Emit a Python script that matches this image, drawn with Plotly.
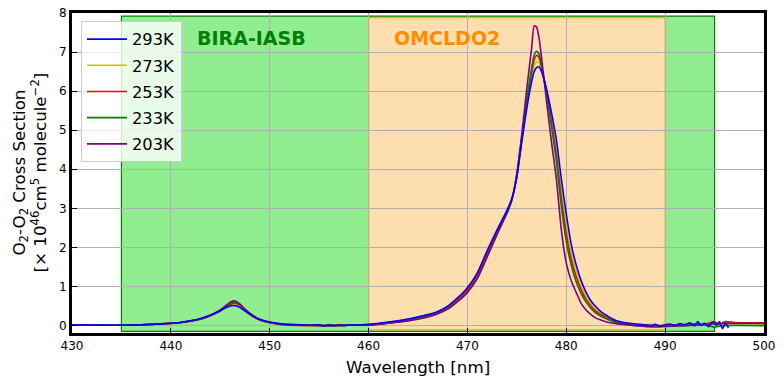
import plotly.graph_objects as go

# ---------------- data ----------------
series_names = ["293K", "273K", "253K", "233K", "203K"]
series_colors = ["#0000ff", "#c8c800", "#ff0000", "#008000", "#800080"]

wl_293 = [430, 432, 434, 436, 438, 440, 441, 442, 443, 444, 444.5, 445, 445.5, 446, 446.5, 447, 447.5,
          448, 448.5, 449, 450, 451, 452, 454, 455, 455.5, 456, 456.5, 457, 457.5, 458, 459, 460, 462, 464,
          466, 467, 468, 469, 470, 471, 472, 473, 474, 474.5, 475, 475.5, 476, 476.5, 476.75, 477, 477.25,
          477.5, 478, 478.5, 479, 479.5, 480, 480.5, 481, 481.5, 482, 482.5, 483, 483.5, 484, 485, 486,
          487, 488, 488.5, 489, 489.5, 490, 490.5, 491, 491.5, 492, 492.5, 493, 493.3, 493.6, 494, 494.4,
          494.8, 495.2, 495.5, 495.8, 496.1, 496.4]
xs_293 = [0.02, 0.015, 0.01, 0.015, 0.03, 0.06, 0.08, 0.12, 0.18, 0.27, 0.32, 0.38, 0.45, 0.50, 0.51, 0.46, 0.37,
          0.29, 0.22, 0.16, 0.09, 0.05, 0.03, 0.01, 0.02, -0.01, 0.02, 0.0, 0.015, -0.005, 0.02, 0.01, 0.03, 0.09, 0.17,
          0.28, 0.36, 0.50, 0.71, 0.97, 1.35, 1.92, 2.45, 2.95, 3.25, 3.80, 4.70, 5.55, 6.25, 6.50, 6.60, 6.62,
          6.50, 6.05, 5.45, 4.75, 3.75, 2.85, 2.08, 1.55, 1.15, 0.85, 0.63, 0.48, 0.36, 0.27, 0.13, 0.07,
          0.04, 0.02, 0.0, 0.03, -0.01, 0.02, 0.04, 0.0, 0.05, 0.02, 0.07, -0.01, 0.10, 0.0, 0.06, -0.03,
          0.09, 0.01, 0.10, -0.08, 0.07, -0.06]

wl_main = [430, 432, 434, 436, 438, 440, 441, 442, 443, 444, 444.5, 445, 445.5, 446, 446.5, 447, 447.5,
           448, 448.5, 449, 450, 451, 452, 454, 456, 458, 460, 462, 464, 466, 467, 468, 469, 470, 471, 472,
           473, 474, 474.5, 475, 475.5, 476, 476.5, 476.75, 477, 477.25, 477.5, 478, 478.5, 479, 479.5,
           480, 480.5, 481, 481.5, 482, 482.5, 483, 483.5, 484, 485, 486, 487, 488]

xs_273_main = [0.015, 0.01, 0.01, 0.01, 0.03, 0.06, 0.08, 0.12, 0.17, 0.26, 0.32, 0.38, 0.46, 0.53, 0.56, 0.50, 0.40,
               0.30, 0.22, 0.16, 0.08, 0.04, 0.02, 0.01, 0.0, 0.01, 0.02, 0.08, 0.16, 0.27, 0.35, 0.48, 0.69, 0.94, 1.32, 1.88,
               2.42, 2.93, 3.25, 3.82, 4.74, 5.65, 6.40, 6.66, 6.75, 6.72, 6.55, 5.98, 5.30, 4.50, 3.45,
               2.55, 1.85, 1.38, 1.02, 0.75, 0.56, 0.42, 0.32, 0.24, 0.12, 0.06, 0.03, 0.01]
xs_253_main = [0.015, 0.01, 0.01, 0.01, 0.03, 0.05, 0.08, 0.11, 0.16, 0.25, 0.31, 0.37, 0.46, 0.54, 0.58, 0.51, 0.40,
               0.29, 0.20, 0.14, 0.07, 0.03, 0.01, 0.0, 0.0, 0.01, 0.02, 0.07, 0.15, 0.26, 0.34, 0.47, 0.67, 0.92, 1.29, 1.85,
               2.40, 2.92, 3.25, 3.84, 4.78, 5.72, 6.50, 6.80, 6.92, 6.85, 6.62, 6.00, 5.20, 4.35, 3.25,
               2.35, 1.70, 1.25, 0.92, 0.67, 0.50, 0.37, 0.28, 0.21, 0.10, 0.05, 0.02, 0.0]
xs_233_main = [0.015, 0.01, 0.01, 0.01, 0.03, 0.06, 0.08, 0.12, 0.17, 0.26, 0.32, 0.39, 0.48, 0.57, 0.60, 0.53, 0.41,
               0.31, 0.22, 0.15, 0.08, 0.04, 0.02, 0.01, 0.0, 0.01, 0.01, 0.06, 0.13, 0.23, 0.31, 0.43, 0.62, 0.86, 1.22, 1.78,
               2.35, 2.88, 3.22, 3.85, 4.80, 5.78, 6.60, 6.92, 7.02, 6.95, 6.65, 5.95, 5.10, 4.20, 3.05,
               2.15, 1.55, 1.12, 0.82, 0.60, 0.44, 0.32, 0.24, 0.18, 0.08, 0.03, 0.0, -0.02]
xs_203_main = [0.015, 0.01, 0.01, 0.01, 0.03, 0.06, 0.08, 0.12, 0.17, 0.26, 0.33, 0.40, 0.50, 0.60, 0.63, 0.55, 0.42,
               0.31, 0.22, 0.15, 0.08, 0.04, 0.02, 0.01, 0.0, 0.01, 0.01, 0.06, 0.12, 0.22, 0.30, 0.42, 0.61, 0.85, 1.20, 1.76,
               2.33, 2.88, 3.22, 3.90, 4.90, 6.05, 7.12, 7.67, 7.64, 7.35, 6.85, 5.75, 4.70, 3.75, 2.45,
               1.60, 1.15, 0.85, 0.57, 0.40, 0.28, 0.19, 0.14, 0.10, 0.05, 0.02, 0.0, -0.02]

wl_273_tail = [488.5, 489, 490, 491, 492, 493, 494, 495, 495.5, 496, 500]
xs_273_tail = [0.04, 0.0, 0.03, 0.01, 0.05, 0.02, 0.06, 0.0, 0.05, 0.02, 0.02]
wl_253_tail = [489, 490, 491, 492, 493, 494, 495, 495.5, 496, 497, 500]
xs_253_tail = [-0.01, 0.0, 0.02, 0.01, 0.05, 0.03, 0.10, 0.02, 0.10, 0.08, 0.07]
wl_233_tail = [489, 490, 492, 494, 495, 496, 500]
xs_233_tail = [-0.03, -0.02, 0.0, 0.02, -0.04, 0.0, 0.0]
wl_203_tail = [489, 490, 492, 494, 495, 496, 500]
xs_203_tail = [-0.03, -0.02, 0.0, 0.03, 0.05, 0.06, 0.06]

x_ticks = [430, 440, 450, 460, 470, 480, 490, 500]
y_ticks = [0, 1, 2, 3, 4, 5, 6, 7, 8]

bira_range = [435, 495]
bira_y = [-0.15, 7.92]
omi_range = [460, 490]
omi_y = [-0.11, 7.88]
region_labels = ["BIRA-IASB", "OMCLDO2"]

# ---------------- build ----------------
series_x = [wl_293, wl_main + wl_273_tail, wl_main + wl_253_tail, wl_main + wl_233_tail, wl_main + wl_203_tail]
series_y = [xs_293, xs_273_main + xs_273_tail, xs_253_main + xs_253_tail,
            xs_233_main + xs_233_tail, xs_203_main + xs_203_tail]

FONT = "DejaVu Sans"
fig = go.Figure()

# draw 293K last (on top) but keep legend order
draw_order = [1, 2, 3, 4, 0]
for i in draw_order:
    fig.add_trace(go.Scatter(
        x=series_x[i], y=series_y[i], mode="lines", name=series_names[i],
        line=dict(color=series_colors[i], width=1.6, shape="spline", smoothing=0.5),
        legendrank=i + 1, legendgroup=series_names[i],
    ))

fig.add_shape(type="rect", xref="x", yref="y", x0=bira_range[0], x1=bira_range[1], y0=bira_y[0], y1=bira_y[1],
              fillcolor="#90ee90", line=dict(color="#008000", width=1.2), layer="below")
fig.add_shape(type="rect", xref="x", yref="y", x0=omi_range[0], x1=omi_range[1], y0=omi_y[0], y1=omi_y[1],
              fillcolor="#fddeae", line=dict(color="rgba(255,165,0,0.7)", width=1.5), layer="below")

fig.add_annotation(x=448.2, y=7.36, text="<b>" + region_labels[0] + "</b>", showarrow=False,
                   font=dict(family=FONT, size=19, color="#008000"))
fig.add_annotation(x=467.9, y=7.36, text="<b>" + region_labels[1] + "</b>", showarrow=False,
                   font=dict(family=FONT, size=19, color="#ff8c00"))

# axis titles as annotations for exact placement
fig.add_annotation(xref="paper", yref="paper", x=0.5, y=-0.106, yanchor="middle", showarrow=False,
                   text="Wavelength [nm]", font=dict(family=FONT, size=16.7))
fig.add_annotation(xref="paper", yref="paper", x=-0.0614, y=0.5, xanchor="center", yanchor="middle",
                   showarrow=False, textangle=-90,
                   text="O<sub>2</sub>-O<sub>2</sub> Cross Section<br>[× 10<sup>46</sup>cm<sup>5</sup> molecule<sup>−2</sup>]",
                   font=dict(family=FONT, size=16.7))

fig.update_layout(
    width=784, height=385,
    margin=dict(l=72, r=20, t=13, b=52, autoexpand=False),
    paper_bgcolor="white", plot_bgcolor="white",
    font=dict(family=FONT, size=12, color="black"),
    legend=dict(x=0.013, y=0.975, xanchor="left", yanchor="top",
                bgcolor="rgba(255,255,255,0.8)", bordercolor="#cccccc", borderwidth=1,
                font=dict(family=FONT, size=16.3), itemwidth=40, tracegroupgap=2),
    showlegend=True,
)
fig.update_xaxes(range=[430, 500], tickvals=x_ticks, ticktext=[str(v) for v in x_ticks],
                 automargin=False, ticklabeloverflow="allow",
                 showgrid=True, gridcolor="#b0b0b0", gridwidth=1, zeroline=False,
                 showline=True, linecolor="black", linewidth=3, mirror=True,
                 ticks="inside", ticklen=5, tickcolor="black",
                 tickfont=dict(family=FONT, size=12))
fig.update_yaxes(range=[-0.19, 8.0], tickvals=y_ticks, ticktext=[str(v) for v in y_ticks],
                 automargin=False, ticklabeloverflow="allow",
                 showgrid=True, gridcolor="#b0b0b0", gridwidth=1, zeroline=False,
                 showline=True, linecolor="black", linewidth=3, mirror=True,
                 ticks="inside", ticklen=5, tickcolor="black",
                 tickfont=dict(family=FONT, size=12))

# remove the default 8px page margin so the figure sits at the window's top-left corner
fig.write_html("out.html", config={"displayModeBar": False},
               post_script="document.body.style.margin='0';")
